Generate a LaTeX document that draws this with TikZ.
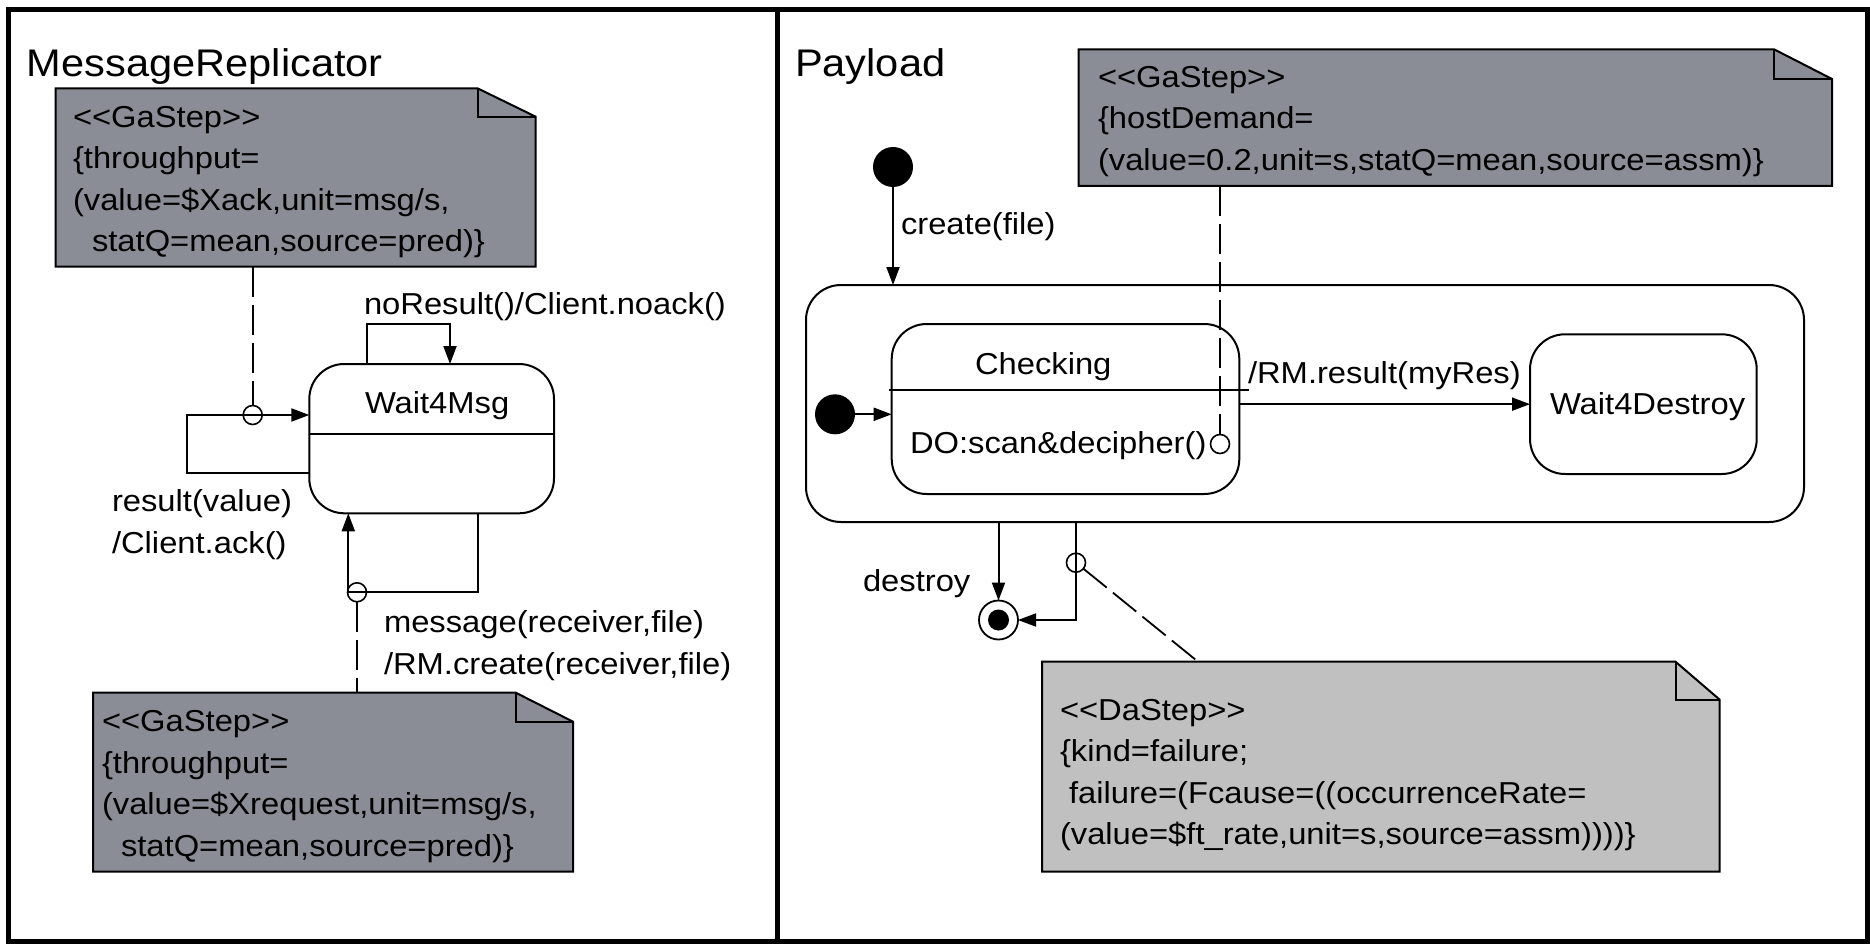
\documentclass[tikz,border=0pt]{standalone}
\usepackage{fontspec}
\setmainfont{Liberation Sans}[FakeStretch=1.08]
\usetikzlibrary{arrows.meta}
\definecolor{notedark}{RGB}{139,141,150}
\definecolor{notelight}{RGB}{192,192,192}
\newcommand{\bodyfont}{\fontsize{30.3}{41.5}\selectfont}
\newcommand{\titlefont}{\fontsize{38.5}{46}\selectfont}
\tikzset{
  txt/.style={font=\bodyfont, inner sep=0pt, outer sep=0pt, anchor=base west},
  ttl/.style={font=\titlefont, inner sep=0pt, outer sep=0pt, anchor=base west},
  statebox/.style={rectangle, draw, line width=2pt, rounded corners=35pt, inner sep=0pt, outer sep=0pt},
  arr/.style={line width=2pt, -{Triangle[length=18pt,width=13pt]}},
  dashline/.style={line width=1.8pt, dash pattern=on 30pt off 8pt},
  anchorcirc/.style={circle, draw, line width=1.6pt, minimum size=19pt, inner sep=0pt, outer sep=0pt},
  initst/.style={circle, fill=black, minimum size=40pt, inner sep=0pt, outer sep=0pt},
  finalout/.style={circle, draw, fill=white, line width=1.8pt, minimum size=39pt, inner sep=0pt, outer sep=0pt},
  finalin/.style={circle, fill=black, minimum size=21pt, inner sep=0pt, outer sep=0pt},
  notepath/.style={draw, line width=2pt, line join=miter},
  divline/.style={line width=2pt},
}
\begin{document}
\begin{tikzpicture}[x=1pt,y=-1pt]
\useasboundingbox (0,0) rectangle (1870,944);
% frame
\draw[line width=5pt] (8.7,10) rectangle (1867,941.5);
\draw[line width=5pt] (777,10) -- (777,941.5);

% titles
\node[ttl] (t1) at (27,77) {MessageReplicator};
\node[ttl] (t2) at (795,77) {Payload};

% ---------------- notes
\filldraw[notepath, fill=notedark] (55.7,88.3) -- (477.5,88.3) -- (535.7,116.7) -- (535.7,266.7) -- (55.7,266.7) -- cycle;
\draw[notepath] (477.5,88.3) -- (477.5,116.7) -- (535.7,116.7);
\coordinate (n1b) at (252.7,266.7);
\node[txt] (n1t) at (73,127.5) {\begin{tabular}[t]{@{}l@{}}<{}<GaStep>{}>\\ \{throughput=\\ (value=\$Xack,unit=msg/s,\\ \hspace*{19pt}statQ=mean,source=pred)\}\end{tabular}};

\filldraw[notepath, fill=notedark] (93,692.7) -- (515.8,692.7) -- (573,721.7) -- (573,871.7) -- (93,871.7) -- cycle;
\draw[notepath] (515.8,692.7) -- (515.8,721.7) -- (573,721.7);
\coordinate (n2t) at (357,692.7);
\node[txt] (n2x) at (102,731.5) {\begin{tabular}[t]{@{}l@{}}<{}<GaStep>{}>\\ \{throughput=\\ (value=\$Xrequest,unit=msg/s,\\ \hspace*{19pt}statQ=mean,source=pred)\}\end{tabular}};

\filldraw[notepath, fill=notedark] (1078.7,49.3) -- (1774,49.3) -- (1832,79) -- (1832,186) -- (1078.7,186) -- cycle;
\draw[notepath] (1774,49.3) -- (1774,79) -- (1832,79);
\coordinate (n3b) at (1220,186);
\node[txt] (n3x) at (1098,87.3) {\begin{tabular}[t]{@{}l@{}}<{}<GaStep>{}>\\ \{hostDemand=\\ (value=0.2,unit=s,statQ=mean,source=assm)\}\end{tabular}};

\filldraw[notepath, fill=notelight] (1042,661.7) -- (1675.5,661.7) -- (1719.5,699.5) -- (1719.5,871.5) -- (1042,871.5) -- cycle;
\draw[notepath] (1675.5,661.7) -- (1675.5,699.5) -- (1719.5,699.5);
\coordinate (n4t) at (1198,661.7);
\node[txt] (n4x) at (1060,720) {\begin{tabular}[t]{@{}l@{}}<{}<DaStep>{}>\\ \{kind=failure;\\ \hspace*{9pt}failure=(Fcause=((occurrenceRate=\\ (value=\$ft\_rate,unit=s,source=assm))))\}\end{tabular}};

% ---------------- left panel: Wait4Msg
\node[statebox, minimum width=244.7pt, minimum height=149.3pt] (wait4msg) at (431.65,438.65) {};
\coordinate (wdiv) at (0,434.3);
\draw[divline] (wait4msg.west |- wdiv) -- (wait4msg.east |- wdiv);
\node[txt] (lw4m) at (365,413.3) {Wait4Msg};

\node[anchorcirc] (c1) at (252.7,415) {};
\node[anchorcirc] (c2) at (357,592.3) {};

\coordinate (nrB) at (366.7,324.3);
\coordinate (nrC) at (450,324.3);
\draw[arr] (wait4msg.north -| nrB) -- (nrB) -- (nrC) -- (wait4msg.north -| nrC);
\node[txt] (lnr) at (364,314) {noResult()/Client.noack()};

\coordinate (rA) at (187.3,473.3);
\coordinate (rB) at (187.3,415);
\draw[arr] (wait4msg.west |- rA) -- (rA) -- (rB) -- (wait4msg.west |- rB);
\node[txt] (lres) at (112,511.7) {\begin{tabular}[t]{@{}l@{}}result(value)\\ /Client.ack()\end{tabular}};

\coordinate (mA) at (478.3,592.3);
\coordinate (mB) at (348.3,592.3);
\draw[arr] (wait4msg.south -| mA) -- (mA) -- (mB) -- (wait4msg.south -| mB);
\node[txt] (lmsg) at (384,632.5) {\begin{tabular}[t]{@{}l@{}}message(receiver,file)\\ /RM.create(receiver,file)\end{tabular}};

\draw[dashline] (n1b) -- (c1);
\draw[dashline] (c2) -- (n2t);

% ---------------- right panel
\node[statebox, minimum width=998pt, minimum height=237pt] (composite) at (1305,403.5) {};
\node[statebox, minimum width=347.6pt, minimum height=170pt] (checking) at (1065.5,409) {};
\coordinate (cdL) at (889,390);
\coordinate (cdR) at (1249,390);
\draw[divline] (cdL) -- (cdR);
\node[txt] (lchk) at (975,374) {Checking};
\node[txt] (ldo) at (910,453.3) {DO:scan\&decipher()};

\node[statebox, minimum width=226.7pt, minimum height=139.7pt] (wait4destroy) at (1643.35,404.15) {};
\node[txt] (lw4d) at (1550,414) {Wait4Destroy};

\node[initst] (init1) at (893,167) {};
\draw[arr] (init1) -- (init1 |- composite.north);
\node[txt] (lcreate) at (901,234) {create(file)};

\node[initst] (init2) at (835,414.3) {};
\draw[arr] (init2) -- (init2 -| checking.west);

\draw[arr] (checking.east |- wait4destroy.west) -- (wait4destroy.west);
\node[txt] (lres2) at (1248,383) {/RM.result(myRes)};

\node[anchorcirc] (c3) at (1220,444) {};
\draw[dashline] (n3b) -- (c3);

\node[finalout] (final) at (998.5,620) {};
\node[finalin] (finalc) at (998.5,620) {};
\draw[arr] (composite.south -| final) -- (final.north);
\node[txt] (ldest) at (863,591) {destroy};

\coordinate (fB) at (1076,620);
\draw[arr] (composite.south -| fB) -- (fB) -- (final.east);
\node[anchorcirc] (c4) at (1076,562.7) {};
\draw[dashline] (c4) -- (n4t);
\end{tikzpicture}
\end{document}
